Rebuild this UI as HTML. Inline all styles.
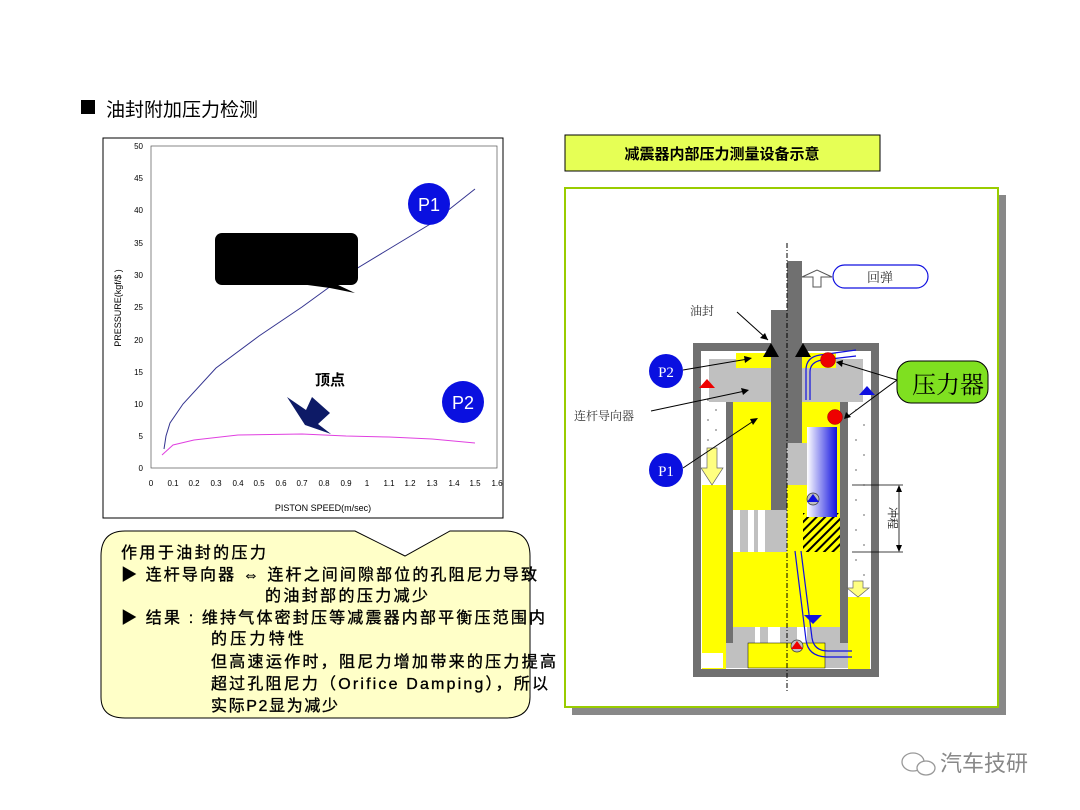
<!DOCTYPE html>
<html><head><meta charset="utf-8"><style>
body{margin:0;width:1080px;height:810px;background:#fff;overflow:hidden;position:relative;font-family:"Liberation Sans","Noto Sans CJK SC",sans-serif}
</style></head><body>
<svg width="1080" height="810" style="position:absolute;left:0;top:0" font-family="Liberation Sans, Noto Sans CJK SC, sans-serif">
<rect x="81" y="100" width="14" height="14" fill="#000"/>
<text x="106" y="116" font-size="19" fill="#000">油封附加压力检测</text>
<rect x="103" y="138" width="400" height="380" fill="#fff" stroke="#000" stroke-width="1"/>
<rect x="151" y="146" width="346" height="322" fill="#fff" stroke="#555" stroke-width="0.7"/>
<g font-size="8" fill="#000" text-anchor="end">
<text x="143" y="149">50</text><text x="143" y="181">45</text><text x="143" y="213">40</text><text x="143" y="246">35</text><text x="143" y="278">30</text><text x="143" y="310">25</text><text x="143" y="343">20</text><text x="143" y="375">15</text><text x="143" y="407">10</text><text x="143" y="439">5</text><text x="143" y="471">0</text>
</g>
<g font-size="8" fill="#000" text-anchor="middle">
<text x="151" y="486">0</text><text x="173" y="486">0.1</text><text x="194" y="486">0.2</text><text x="216" y="486">0.3</text><text x="238" y="486">0.4</text><text x="259" y="486">0.5</text><text x="281" y="486">0.6</text><text x="302" y="486">0.7</text><text x="324" y="486">0.8</text><text x="346" y="486">0.9</text><text x="367" y="486">1</text><text x="389" y="486">1.1</text><text x="410" y="486">1.2</text><text x="432" y="486">1.3</text><text x="454" y="486">1.4</text><text x="475" y="486">1.5</text><text x="497" y="486">1.6</text>
</g>
<text x="323" y="511" font-size="9" text-anchor="middle">PISTON SPEED(m/sec)</text>
<text transform="translate(121,308) rotate(-90)" font-size="9" text-anchor="middle">PRESSURE(kgf/$ )</text>
<polyline fill="none" stroke="#33338f" stroke-width="1" points="164,449 166,436 170,423 183,404 216,368 259,336 302,307 346,275 389,249 432,223 475,189"/>
<polyline fill="none" stroke="#e040e0" stroke-width="1" points="162,455 173,445 194,440 238,435 302,434 346,436 389,437 432,439 475,443"/>
<circle cx="429" cy="204" r="21" fill="#0a10e0"/>
<text x="429" y="211" font-size="18" fill="#fff" text-anchor="middle">P1</text>
<circle cx="463" cy="402" r="21" fill="#0a10e0"/>
<text x="463" y="409" font-size="18" fill="#fff" text-anchor="middle">P2</text>
<rect x="215" y="233" width="143" height="52" rx="7" fill="#000"/>
<polygon points="300,284 336,284 355,293 330,288" fill="#000"/>
<text x="330" y="385" font-size="15" text-anchor="middle" font-weight="bold">顶点</text>
<polygon points="287,397 306,410 312,397 330,413 318,424 331,434 305,425" fill="#0d1a66"/>
<path d="M125,531 L355,531 L405,556 L450,531 L505,531 Q530,531 530,556 L530,697 Q530,718 505,718 L125,718 Q101,718 101,697 L101,556 Q101,531 125,531 Z" fill="#ffffc8" stroke="#000" stroke-width="1"/>
<g font-size="16" fill="#000" stroke="#000" stroke-width="0.35" lengthAdjust="spacing">
<text x="121" y="558" textLength="145">作用于油封的压力</text>
<text x="121" y="580" textLength="416">▶ 连杆导向器 ⇔ 连杆之间间隙部位的孔阻尼力导致</text>
<text x="265" y="601" textLength="163">的油封部的压力减少</text>
<text x="121" y="623" textLength="424">▶ 结果 : 维持气体密封压等减震器内部平衡压范围内</text>
<text x="211" y="644" textLength="93">的压力特性</text>
<text x="211" y="667" textLength="345">但高速运作时，阻尼力增加带来的压力提高</text>
<text x="211" y="689" textLength="337">超过孔阻尼力（Orifice Damping），所以</text>
<text x="211" y="711" textLength="127">实际P2显为减少</text>
</g>
<rect x="565" y="135" width="315" height="36" fill="#e6ff55" stroke="#000" stroke-width="1"/>
<text x="722" y="159" font-size="15" font-weight="bold" text-anchor="middle">减震器内部压力测量设备示意</text>
<rect x="572" y="195" width="434" height="520" fill="#888"/>
<rect x="565" y="188" width="433" height="519" fill="#fff" stroke="#99cc00" stroke-width="2"/>
<rect x="693" y="343" width="186" height="334" fill="#707070"/>
<rect x="701" y="351" width="170" height="318" fill="#fff"/>
<rect x="702" y="382" width="24" height="103" fill="#fff"/>
<rect x="702" y="485" width="24" height="184" fill="#ffff00"/>
<rect x="848" y="382" width="22" height="215" fill="#fff"/>
<rect x="848" y="597" width="22" height="72" fill="#ffff00"/>
<g fill="#000">
<circle cx="708" cy="400" r=".6"/><circle cx="716" cy="410" r=".6"/><circle cx="708" cy="420" r=".6"/><circle cx="716" cy="430" r=".6"/><circle cx="708" cy="440" r=".6"/><circle cx="716" cy="450" r=".6"/><circle cx="708" cy="460" r=".6"/><circle cx="716" cy="470" r=".6"/>
<circle cx="856" cy="410" r=".6"/><circle cx="864" cy="425" r=".6"/><circle cx="856" cy="440" r=".6"/><circle cx="864" cy="455" r=".6"/><circle cx="856" cy="470" r=".6"/><circle cx="864" cy="485" r=".6"/><circle cx="856" cy="500" r=".6"/><circle cx="864" cy="515" r=".6"/><circle cx="856" cy="530" r=".6"/><circle cx="864" cy="545" r=".6"/><circle cx="856" cy="560" r=".6"/><circle cx="864" cy="575" r=".6"/>
</g>
<rect x="733" y="382" width="107" height="261" fill="#ffff00"/>
<rect x="726" y="382" width="7" height="261" fill="#707070"/>
<rect x="840" y="382" width="8" height="261" fill="#707070"/>
<rect x="709" y="359" width="154" height="43" fill="#c0c0c0"/>
<rect x="736" y="353" width="35" height="15" fill="#ffff00"/>
<rect x="802" y="353" width="34" height="15" fill="#ffff00"/>
<rect x="733" y="510" width="54" height="42" fill="#fff"/>
<rect x="740" y="510" width="8" height="42" fill="#c0c0c0"/><rect x="754" y="510" width="4" height="42" fill="#c0c0c0"/><rect x="765" y="510" width="22" height="42" fill="#c0c0c0"/>
<rect x="787" y="443" width="20" height="42" fill="#c0c0c0"/>
<pattern id="h" width="6" height="6" patternUnits="userSpaceOnUse" patternTransform="rotate(45)"><rect width="6" height="6" fill="#ffff00"/><rect width="2" height="6" fill="#000"/></pattern>
<rect x="803" y="513" width="37" height="39" fill="url(#h)"/>
<linearGradient id="g" x1="0" x2="1"><stop offset="0" stop-color="#fff"/><stop offset="1" stop-color="#1010e0"/></linearGradient>
<rect x="807" y="427" width="30" height="90" fill="url(#g)"/>
<rect x="733" y="627" width="107" height="16" fill="#c0c0c0"/>
<rect x="755" y="627" width="5" height="16" fill="#fff"/><rect x="768" y="627" width="12" height="16" fill="#fff"/><rect x="797" y="627" width="10" height="16" fill="#fff"/>
<rect x="726" y="643" width="122" height="25" fill="#c0c0c0"/>
<rect x="748" y="643" width="77" height="25" fill="#ffff00" stroke="#000" stroke-width=".5"/>
<rect x="702" y="653" width="21" height="15" fill="#fff"/>
<rect x="771" y="310" width="16" height="200" fill="#707070"/>
<rect x="787" y="261" width="15" height="182" fill="#707070"/>
<line x1="787" y1="243" x2="787" y2="693" stroke="#000" stroke-width="1" stroke-dasharray="5,2,1,2"/>
<path d="M806,400 L806,370 Q806,357 820,355 L856,350" fill="none" stroke="#1010e0" stroke-width="1.2"/>
<path d="M810,400 L810,372 Q810,362 822,360 L856,356" fill="none" stroke="#1010e0" stroke-width="1.2"/>
<path d="M795,551 L806,640 Q808,656 826,657 L852,657" fill="none" stroke="#1010e0" stroke-width="1.2"/>
<path d="M801,551 L812,638 Q814,651 828,651 L852,651" fill="none" stroke="#1010e0" stroke-width="1.2"/>
<polygon points="763,357 779,357 771,343" fill="#000"/>
<polygon points="795,357 811,357 803,343" fill="#000"/>
<polygon points="699,388 715,388 707,379" fill="#e00"/>
<polygon points="859,395 875,395 867,386" fill="#1010e0"/>
<circle cx="813" cy="499" r="6" fill="#c0c0c0" stroke="#333" stroke-width=".7"/><polygon points="807,502 819,502 813,494" fill="#1010e0"/>
<circle cx="797" cy="646" r="6" fill="#c0c0c0" stroke="#333" stroke-width=".7"/><polygon points="791,649 803,649 797,641" fill="#e00"/>
<polygon points="804,615 822,615 813,624" fill="#1010e0"/>
<circle cx="828" cy="360" r="7.5" fill="#ee0000" stroke="#900" stroke-width=".5"/>
<circle cx="835" cy="417" r="7.5" fill="#ee0000" stroke="#900" stroke-width=".5"/>
<polygon points="707,448 717,448 717,468 723,468 712,485 701,468 707,468" fill="#ffff80" stroke="#666" stroke-width=".7"/>
<polygon points="853,581 863,581 863,588 869,588 858,597 847,588 853,588" fill="#ffff80" stroke="#666" stroke-width=".7"/>
<polygon points="813,287 821,287 821,277 832,277 817,270 802,277 813,277" fill="#fff" stroke="#555" stroke-width="1"/>
<rect x="833" y="265" width="95" height="23" rx="11.5" fill="#fff" stroke="#1010e0" stroke-width="1.2"/>
<text x="880" y="282" font-size="13" text-anchor="middle" font-family="Liberation Serif, Noto Serif CJK SC, serif" fill="#333">回弹</text>
<text x="690" y="315" font-size="12" font-family="Liberation Serif, Noto Serif CJK SC, serif" fill="#333">油封</text>
<text x="574" y="420" font-size="12" font-family="Liberation Serif, Noto Serif CJK SC, serif" fill="#333">连杆导向器</text>
<g stroke="#000" stroke-width="1" fill="none">
<line x1="737" y1="312" x2="768" y2="340"/>
<line x1="651" y1="411" x2="745" y2="391"/>
<line x1="683" y1="370" x2="748" y2="359"/>
<line x1="683" y1="468" x2="755" y2="420"/>
<line x1="897" y1="380" x2="838" y2="362"/>
<line x1="897" y1="380" x2="847" y2="417"/>
</g>
<g fill="#000">
<polygon points="768,340 760,338 765,333"/>
<polygon points="749,390 741,388 743,395"/>
<polygon points="752,358 744,356 745,363"/>
<polygon points="758,418 750,419 753,425"/>
<polygon points="836,362 843,360 842,367"/>
<polygon points="844,419 846,412 851,417"/>
</g>
<circle cx="666" cy="371" r="17" fill="#0a10e0"/>
<text x="666" y="377" font-size="15" fill="#fff" text-anchor="middle" font-family="Liberation Serif, serif">P2</text>
<circle cx="666" cy="470" r="17" fill="#0a10e0"/>
<text x="666" y="476" font-size="15" fill="#fff" text-anchor="middle" font-family="Liberation Serif, serif">P1</text>
<rect x="897" y="361" width="91" height="42" rx="14" fill="#7fe020" stroke="#000" stroke-width="1"/>
<text x="948" y="393" font-size="24" text-anchor="middle" font-family="Liberation Serif, Noto Serif CJK SC, serif">压力器</text>
<line x1="852" y1="485" x2="903" y2="485" stroke="#000" stroke-width=".8"/>
<line x1="852" y1="552" x2="903" y2="552" stroke="#000" stroke-width=".8"/>
<line x1="899" y1="487" x2="899" y2="550" stroke="#000" stroke-width=".8"/>
<polygon points="899,485 896,492 902,492" fill="#000"/><polygon points="899,552 896,545 902,545" fill="#000"/>
<text transform="translate(889,518) rotate(90)" font-size="11" text-anchor="middle" fill="#333">冲程</text>
<ellipse cx="913" cy="762" rx="11" ry="9" fill="none" stroke="#999" stroke-width="1.3"/>
<ellipse cx="926" cy="768" rx="9" ry="7" fill="#fff" stroke="#999" stroke-width="1.3"/>
<text x="940" y="771" font-size="22" fill="#888">汽车技研</text>
</svg>
</body></html>
